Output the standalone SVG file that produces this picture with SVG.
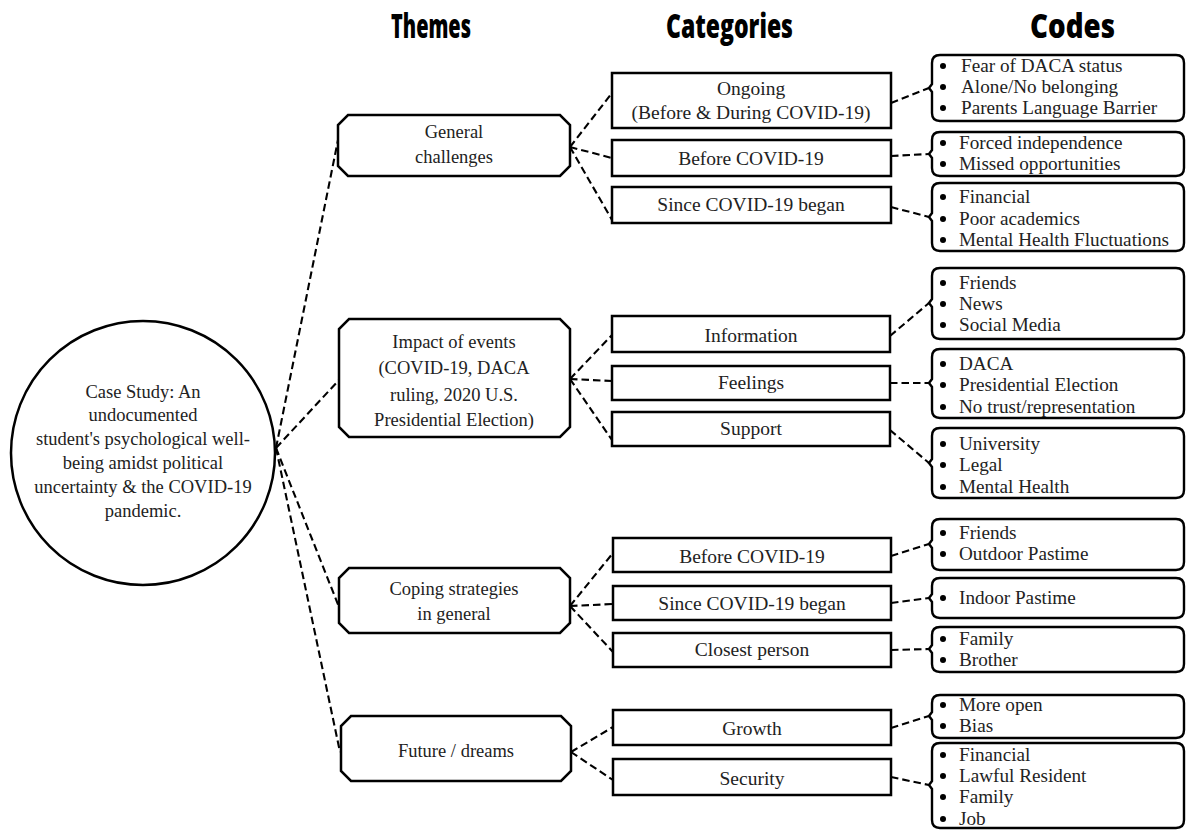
<svg xmlns="http://www.w3.org/2000/svg" width="1187" height="830" viewBox="0 0 1187 830">
<style>
.hdr{font-family:"Open Sans","Liberation Sans",sans-serif;font-weight:800;font-size:33px;fill:#000}
.t{font-family:"Liberation Serif","Times New Roman",serif;font-size:18.5px;fill:#222;text-anchor:middle}
.k{font-family:"Liberation Serif","Times New Roman",serif;font-size:19.5px;fill:#222;text-anchor:middle}
.c{font-family:"Liberation Serif","Times New Roman",serif;font-size:19.2px;fill:#222}
.shape{fill:#fff;stroke:#000;stroke-width:2.5}
.cx{fill:#fff;stroke:#000;stroke-width:2.4}
.con line{stroke:#000;stroke-width:2.1;stroke-dasharray:7.5 4;fill:none}
.b{fill:#000}
</style>
<rect width="1187" height="830" fill="#fff"/>
<g id="headers">
<text class="hdr" x="391" y="38" textLength="80" lengthAdjust="spacingAndGlyphs">Themes</text>
<text class="hdr" x="666" y="38" textLength="127" lengthAdjust="spacingAndGlyphs">Categories</text>
<text class="hdr" x="1030" y="38" textLength="85" lengthAdjust="spacingAndGlyphs">Codes</text>
</g>
<g id="connectors" class="con">
<line x1="276" y1="448" x2="338" y2="140"/>
<line x1="276" y1="448" x2="339" y2="380"/>
<line x1="276" y1="448" x2="339" y2="607"/>
<line x1="276" y1="448" x2="340" y2="752"/>
<line x1="570" y1="147" x2="612" y2="93"/>
<line x1="570" y1="147" x2="612" y2="158"/>
<line x1="570" y1="147" x2="612" y2="220"/>
<line x1="570" y1="379" x2="612" y2="335"/>
<line x1="570" y1="379" x2="612" y2="381"/>
<line x1="570" y1="379" x2="612" y2="440"/>
<line x1="570" y1="606" x2="613" y2="553"/>
<line x1="570" y1="606" x2="613" y2="604"/>
<line x1="570" y1="606" x2="613" y2="652"/>
<line x1="571" y1="752" x2="613" y2="727"/>
<line x1="571" y1="752" x2="613" y2="780"/>
<line x1="891" y1="103" x2="929" y2="88"/>
<line x1="891" y1="156" x2="929" y2="154"/>
<line x1="891" y1="207" x2="929" y2="217"/>
<line x1="890" y1="336" x2="929" y2="303"/>
<line x1="890" y1="383" x2="929" y2="383"/>
<line x1="890" y1="430" x2="929" y2="463"/>
<line x1="891" y1="556" x2="929" y2="544"/>
<line x1="891" y1="603" x2="929" y2="598"/>
<line x1="891" y1="650" x2="929" y2="649"/>
<line x1="891" y1="728" x2="929" y2="716"/>
<line x1="891" y1="777" x2="929" y2="785"/>
</g>
<g id="case-study">
<circle class="shape" cx="143" cy="453" r="132"/>
<text class="t" x="143" y="398">Case Study: An</text>
<text class="t" x="143" y="421">undocumented</text>
<text class="t" x="143" y="445">student's psychological well-</text>
<text class="t" x="143" y="469">being amidst political</text>
<text class="t" x="143" y="493">uncertainty &amp; the COVID-19</text>
<text class="t" x="143" y="517">pandemic.</text>
</g>
<g id="theme-general">
<path class="shape" d="M348,115 H560 L570,125 V166 L560,176 H348 L338,166 V125 Z"/>
<text class="t" x="454" y="138">General</text>
<text class="t" x="454" y="163">challenges</text>
</g>
<g id="theme-impact">
<path class="shape" d="M349,319 H560 L570,329 V427 L560,437 H349 L339,427 V329 Z"/>
<text class="t" x="454" y="348">Impact of events</text>
<text class="t" x="454" y="374">(COVID-19, DACA</text>
<text class="t" x="454" y="401">ruling, 2020 U.S.</text>
<text class="t" x="454" y="426">Presidential Election)</text>
</g>
<g id="theme-coping">
<path class="shape" d="M349,568 H560 L570,578 V623 L560,633 H349 L339,623 V578 Z"/>
<text class="t" x="454" y="595">Coping strategies</text>
<text class="t" x="454" y="620">in general</text>
</g>
<g id="theme-future">
<path class="shape" d="M351,716 H561 L571,726 V771 L561,781 H351 L341,771 V726 Z"/>
<text class="t" x="456" y="757">Future / dreams</text>
</g>
<g id="cat-ongoing"><rect class="shape" x="612" y="73" width="279" height="55"/>
<text class="k" x="751" y="95">Ongoing</text><text class="k" x="751" y="119">(Before &amp; During COVID-19)</text></g>
<g id="cat-before1"><rect class="shape" x="612" y="140" width="279" height="36"/>
<text class="k" x="751" y="165">Before COVID-19</text></g>
<g id="cat-since1"><rect class="shape" x="612" y="187" width="279" height="36"/>
<text class="k" x="751" y="211">Since COVID-19 began</text></g>
<g id="cat-information"><rect class="shape" x="612" y="316" width="278" height="36"/>
<text class="k" x="751" y="342">Information</text></g>
<g id="cat-feelings"><rect class="shape" x="612" y="366" width="278" height="34"/>
<text class="k" x="751" y="389">Feelings</text></g>
<g id="cat-support"><rect class="shape" x="612" y="412" width="278" height="34"/>
<text class="k" x="751" y="435">Support</text></g>
<g id="cat-before3"><rect class="shape" x="613" y="538" width="278" height="34"/>
<text class="k" x="752" y="563">Before COVID-19</text></g>
<g id="cat-since3"><rect class="shape" x="613" y="586" width="278" height="34"/>
<text class="k" x="752" y="610">Since COVID-19 began</text></g>
<g id="cat-closest"><rect class="shape" x="613" y="633" width="278" height="34"/>
<text class="k" x="752" y="656">Closest person</text></g>
<g id="cat-growth"><rect class="shape" x="613" y="710" width="278" height="35"/>
<text class="k" x="752" y="735">Growth</text></g>
<g id="cat-security"><rect class="shape" x="613" y="759" width="278" height="36"/>
<text class="k" x="752" y="785">Security</text></g>

<g id="code-ongoing">
<path class="cx" d="M940,55 H1176 Q1184,55 1184,63 V113 Q1184,121 1176,121 H940 Q932,121 932,113 V92 L929,88 L932,84 V63 Q932,55 940,55 Z"/>
<circle class="b" cx="943" cy="66" r="3"/><text class="c" x="961" y="72">Fear of DACA status</text>
<circle class="b" cx="943" cy="87" r="3"/><text class="c" x="961" y="93">Alone/No belonging</text>
<circle class="b" cx="943" cy="108" r="3"/><text class="c" x="961" y="114">Parents Language Barrier</text>
</g>
<g id="code-before1">
<path class="cx" d="M940,132 H1176 Q1184,132 1184,140 V168 Q1184,176 1176,176 H940 Q932,176 932,168 V158 L929,154 L932,150 V140 Q932,132 940,132 Z"/>
<circle class="b" cx="943" cy="143" r="3"/><text class="c" x="959" y="149">Forced independence</text>
<circle class="b" cx="943" cy="164" r="3"/><text class="c" x="959" y="170">Missed opportunities</text>
</g>
<g id="code-since1">
<path class="cx" d="M940,183 H1176 Q1184,183 1184,191 V243 Q1184,251 1176,251 H940 Q932,251 932,243 V221 L929,217 L932,213 V191 Q932,183 940,183 Z"/>
<circle class="b" cx="943" cy="197" r="3"/><text class="c" x="959" y="203">Financial</text>
<circle class="b" cx="943" cy="219" r="3"/><text class="c" x="959" y="225">Poor academics</text>
<circle class="b" cx="943" cy="240" r="3"/><text class="c" x="959" y="246">Mental Health Fluctuations</text>
</g>
<g id="code-information">
<path class="cx" d="M940,268 H1176 Q1184,268 1184,276 V331 Q1184,339 1176,339 H940 Q932,339 932,331 V307 L929,303 L932,299 V276 Q932,268 940,268 Z"/>
<circle class="b" cx="943" cy="283" r="3"/><text class="c" x="959" y="289">Friends</text>
<circle class="b" cx="943" cy="304" r="3"/><text class="c" x="959" y="310">News</text>
<circle class="b" cx="943" cy="325" r="3"/><text class="c" x="959" y="331">Social Media</text>
</g>
<g id="code-feelings">
<path class="cx" d="M940,349 H1176 Q1184,349 1184,357 V410 Q1184,418 1176,418 H940 Q932,418 932,410 V387 L929,383 L932,379 V357 Q932,349 940,349 Z"/>
<circle class="b" cx="943" cy="364" r="3"/><text class="c" x="959" y="370">DACA</text>
<circle class="b" cx="943" cy="385" r="3"/><text class="c" x="959" y="391">Presidential Election</text>
<circle class="b" cx="943" cy="407" r="3"/><text class="c" x="959" y="413">No trust/representation</text>
</g>
<g id="code-support">
<path class="cx" d="M940,428 H1176 Q1184,428 1184,436 V490 Q1184,498 1176,498 H940 Q932,498 932,490 V467 L929,463 L932,459 V436 Q932,428 940,428 Z"/>
<circle class="b" cx="943" cy="444" r="3"/><text class="c" x="959" y="450">University</text>
<circle class="b" cx="943" cy="465" r="3"/><text class="c" x="959" y="471">Legal</text>
<circle class="b" cx="943" cy="487" r="3"/><text class="c" x="959" y="493">Mental Health</text>
</g>
<g id="code-before3">
<path class="cx" d="M940,519 H1176 Q1184,519 1184,527 V562 Q1184,570 1176,570 H940 Q932,570 932,562 V548 L929,544 L932,540 V527 Q932,519 940,519 Z"/>
<circle class="b" cx="943" cy="533" r="3"/><text class="c" x="959" y="539">Friends</text>
<circle class="b" cx="943" cy="554" r="3"/><text class="c" x="959" y="560">Outdoor Pastime</text>
</g>
<g id="code-since3">
<path class="cx" d="M940,578 H1176 Q1184,578 1184,586 V610 Q1184,618 1176,618 H940 Q932,618 932,610 V602 L929,598 L932,594 V586 Q932,578 940,578 Z"/>
<circle class="b" cx="943" cy="598" r="3"/><text class="c" x="959" y="604">Indoor Pastime</text>
</g>
<g id="code-closest">
<path class="cx" d="M940,627 H1176 Q1184,627 1184,635 V664 Q1184,672 1176,672 H940 Q932,672 932,664 V653 L929,649 L932,645 V635 Q932,627 940,627 Z"/>
<circle class="b" cx="943" cy="639" r="3"/><text class="c" x="959" y="645">Family</text>
<circle class="b" cx="943" cy="660" r="3"/><text class="c" x="959" y="666">Brother</text>
</g>
<g id="code-growth">
<path class="cx" d="M940,695 H1176 Q1184,695 1184,703 V730 Q1184,738 1176,738 H940 Q932,738 932,730 V720 L929,716 L932,712 V703 Q932,695 940,695 Z"/>
<circle class="b" cx="943" cy="705" r="3"/><text class="c" x="959" y="711">More open</text>
<circle class="b" cx="943" cy="726" r="3"/><text class="c" x="959" y="732">Bias</text>
</g>
<g id="code-security">
<path class="cx" d="M940,743 H1176 Q1184,743 1184,751 V820 Q1184,828 1176,828 H940 Q932,828 932,820 V789 L929,785 L932,781 V751 Q932,743 940,743 Z"/>
<circle class="b" cx="943" cy="755" r="3"/><text class="c" x="959" y="761">Financial</text>
<circle class="b" cx="943" cy="776" r="3"/><text class="c" x="959" y="782">Lawful Resident</text>
<circle class="b" cx="943" cy="797" r="3"/><text class="c" x="959" y="803">Family</text>
<circle class="b" cx="943" cy="819" r="3"/><text class="c" x="959" y="825">Job</text>
</g>
</svg>
